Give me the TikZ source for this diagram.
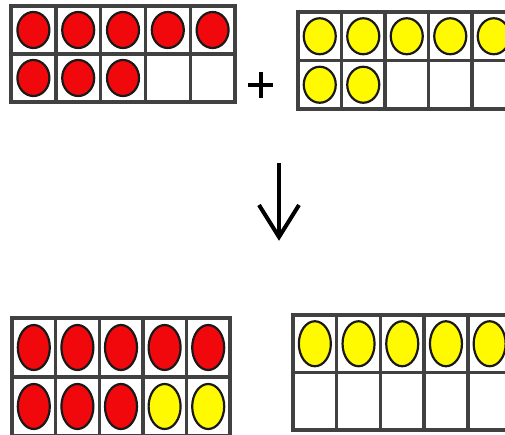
\documentclass[tikz,border=0pt]{standalone}
\definecolor{cntred}{RGB}{240,8,12}
\definecolor{cntyel}{RGB}{255,250,0}
\definecolor{gridc}{RGB}{65,65,65}
\tikzset{
  cellbox/.style={draw=gridc, line width=3.4pt, fill=white},
  counter/.style={draw=black!90, line width=2.2pt},
  sym/.style={draw=black, line width=4pt},
}
\newcommand{\tenframe}[6]{%
  % #1 x0, #2 y0, #3 cell width, #4 cell height, #5 ellipse ry, #6 colours
  \foreach \c [count=\i from 0] in {#6} {
    \pgfmathtruncatemacro\col{mod(\i,5)}
    \pgfmathtruncatemacro\row{div(\i,5)}
    \pgfmathsetmacro\xa{#1+\col*#3}
    \pgfmathsetmacro\ya{#2+\row*#4}
    \pgfmathsetmacro\xb{\xa+#3}
    \pgfmathsetmacro\yb{\ya+#4}
    \pgfmathsetmacro\xm{\xa+#3/2}
    \pgfmathsetmacro\ym{\ya+#4/2}
    \draw[cellbox] (\xa,\ya) rectangle (\xb,\yb);
    \ifx\c\empty\else
      \draw[counter, fill=\c] (\xm,\ym) ellipse [x radius=16, y radius=#5];
    \fi
  }%
}
\begin{document}
\begin{tikzpicture}[x=1pt,y=-1pt]
\useasboundingbox (0,0) rectangle (505,435);
\clip (0,0) rectangle (505,435);
\fill[white] (0,0) rectangle (505,435);
% top-left ten frame: 8 red
\tenframe{11}{6}{44.8}{48}{18}{cntred,cntred,cntred,cntred,cntred,cntred,cntred,cntred,,}
% top-right ten frame: 7 yellow
\tenframe{298}{12}{43.5}{48.5}{18}{cntyel,cntyel,cntyel,cntyel,cntyel,cntyel,cntyel,,,}
% bottom-left ten frame: 8 red + 2 yellow
\tenframe{12}{318}{43.6}{59}{22.5}{cntred,cntred,cntred,cntred,cntred,cntred,cntred,cntred,cntyel,cntyel}
% bottom-right ten frame: 5 yellow
\tenframe{293}{315}{43.7}{57.5}{22.5}{cntyel,cntyel,cntyel,cntyel,cntyel,,,,,}
% plus sign
\coordinate (pl) at (248,85);
\coordinate (pr) at (273,85);
\coordinate (pt) at (260.5,72);
\coordinate (pb) at (260.5,98);
\draw[sym] (pl) -- (pr);
\draw[sym] (pt) -- (pb);
% down arrow
\coordinate (atop) at (279,163);
\coordinate (atip) at (279,237);
\coordinate (awl) at (259,205);
\coordinate (awr) at (299,205);
\draw[sym] (atop) -- (atip);
\draw[sym, line join=miter] (awl) -- (atip) -- (awr);
\end{tikzpicture}
\end{document}
